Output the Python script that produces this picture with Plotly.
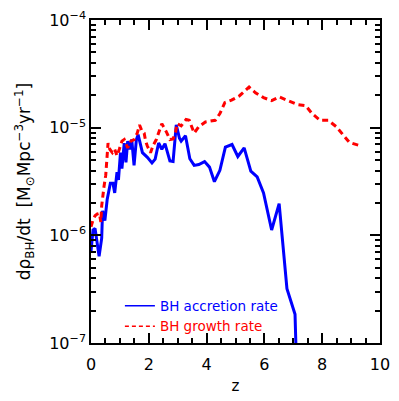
import plotly.graph_objects as go

# BH accretion rate (blue solid)
z_acc = [0.00, 0.07, 0.14, 0.20, 0.28, 0.37, 0.40, 0.48, 0.56, 0.67, 0.76, 0.82, 0.90, 0.95,
         1.02, 1.07, 1.15, 1.21, 1.27, 1.34, 1.41, 1.49, 1.57, 1.63, 1.78, 1.95, 2.11, 2.22,
         2.34, 2.45, 2.56, 2.73, 2.84, 2.95, 3.06, 3.12, 3.27, 3.42, 3.57, 3.73, 3.93, 4.10,
         4.27, 4.46, 4.65, 4.88, 5.08, 5.30, 5.53, 5.75, 5.97, 6.25, 6.51, 6.78, 7.06, 7.12]
acc = [7.1e-7, 1.12e-6, 1.16e-6, 8.8e-7, 6.4e-7, 9.4e-7, 1.69e-6, 1.37e-6, 2.15e-6, 3.05e-6,
       3.05e-6, 2.48e-6, 3.87e-6, 3.27e-6, 5.86e-6, 4.16e-6, 7.2e-6, 4.77e-6, 7.5e-6, 6.3e-6,
       7.75e-6, 4.46e-6, 7.75e-6, 8.6e-6, 5.86e-6, 5.3e-6, 4.7e-6, 5.1e-6, 7.2e-6, 6.3e-6,
       7.1e-6, 4.9e-6, 4.85e-6, 1.06e-5, 8.0e-6, 7.5e-6, 8.4e-6, 5.15e-6, 4.46e-6, 4.55e-6,
       4.84e-6, 4.3e-6, 3.15e-6, 4.02e-6, 6.6e-6, 6.98e-6, 5.4e-6, 6.5e-6, 3.94e-6, 3.49e-6,
       2.48e-6, 1.12e-6, 1.97e-6, 3.2e-7, 1.85e-7, 5e-8]

# BH growth rate (red dashed)
z_gro = [0.00, 0.07, 0.14, 0.22, 0.29, 0.34, 0.37, 0.40, 0.45, 0.51, 0.56, 0.59, 0.65, 0.74,
         0.82, 0.90, 0.98, 1.07, 1.15, 1.27, 1.38, 1.49, 1.60, 1.68, 1.77, 1.84, 1.89, 1.95,
         2.06, 2.15, 2.26, 2.37, 2.45, 2.62, 2.73, 2.84, 2.93, 2.98, 3.12, 3.29, 3.40, 3.57,
         3.73, 3.96, 4.30, 4.46, 4.63, 4.86, 5.13, 5.47, 5.69, 5.97, 6.25, 6.51, 6.81, 7.15,
         7.43, 7.65, 7.93, 8.21, 8.49, 8.71, 8.94, 9.27]
gro = [1.2e-6, 1.39e-6, 1.52e-6, 1.58e-6, 1.6e-6, 1.33e-6, 1.88e-6, 2.31e-6, 2.84e-6, 3.62e-6,
       5.3e-6, 7.2e-6, 6.3e-6, 5.86e-6, 6.3e-6, 5.48e-6, 6.3e-6, 7.5e-6, 7.75e-6, 6.5e-6,
       7.5e-6, 7.75e-6, 8.9e-6, 1.06e-5, 9.2e-6, 8.9e-6, 7.5e-6, 6.75e-6, 5.86e-6, 6.84e-6,
       7.75e-6, 9.4e-6, 1.09e-5, 9.0e-6, 7.75e-6, 7.85e-6, 9.2e-6, 1.09e-5, 1.04e-5, 1.19e-5,
       1.17e-5, 8.9e-6, 1.02e-5, 1.13e-5, 1.17e-5, 1.35e-5, 1.71e-5, 1.80e-5, 1.97e-5, 2.38e-5,
       2.11e-5, 1.90e-5, 1.78e-5, 1.93e-5, 1.78e-5, 1.64e-5, 1.60e-5, 1.35e-5, 1.17e-5, 1.17e-5,
       1.02e-5, 8.6e-6, 7.3e-6, 6.84e-6]

x_ticks = [0, 2, 4, 6, 8, 10]
x_all = [i * 0.5 for i in range(21)]
x_alltext = [str(int(v)) if v in x_ticks else "" for v in x_all]
y_ticks = [1e-7, 1e-6, 1e-5, 1e-4]
y_alltext_map = {1e-7: "10<sup>−7</sup>", 1e-6: "10<sup>−6</sup>",
                 1e-5: "10<sup>−5</sup>", 1e-4: "10<sup>−4</sup>"}
y_all = [m * d for d in (1e-7, 1e-6, 1e-5) for m in range(1, 10)] + [1e-4]
y_alltext = [y_alltext_map.get(v, "") for v in y_all]

FONT = "DejaVu Sans"

fig = go.Figure()
# invisible copy on the overlay axes that carry the longer major ticks
fig.add_trace(go.Scatter(x=z_gro, y=gro, xaxis="x2", yaxis="y2", mode="lines",
                         opacity=0, showlegend=False, hoverinfo="skip",
                         line=dict(color="rgba(0,0,0,0)", width=0.1)))
fig.add_trace(go.Scatter(x=z_acc, y=acc, mode="lines", showlegend=False,
                         line=dict(color="#0000ff", width=3)))
fig.add_trace(go.Scatter(x=z_gro, y=gro, mode="lines", showlegend=False,
                         line=dict(color="#ff0000", width=3, dash="6px,4px")))
# legend entries (thin lines as in the reference legend)
fig.add_trace(go.Scatter(x=[None], y=[None], mode="lines",
                         line=dict(color="#0000ff", width=1.5),
                         name="<span style='color:#0000ff'>BH accretion rate</span>"))
fig.add_trace(go.Scatter(x=[None], y=[None], mode="lines",
                         line=dict(color="#ff0000", width=1.5, dash="4px,3px"),
                         name="<span style='color:#ff0000'>BH growth rate</span>"))

axis_common = dict(showline=True, linecolor="black", linewidth=1.5, showgrid=False,
                   zeroline=False, ticks="inside", tickwidth=1.5, tickcolor="black",
                   mirror="ticks", layer="above traces")

fig.update_layout(
    width=399, height=401,
    margin=dict(l=91, r=9, t=14, b=58),
    paper_bgcolor="white", plot_bgcolor="white",
    font=dict(family=FONT, size=14, color="black"),
    showlegend=True,
    legend=dict(x=0.10, y=0.163, xanchor="left", yanchor="top",
                bgcolor="rgba(0,0,0,0)", font=dict(size=13.5, family=FONT),
                tracegroupgap=0, itemwidth=30),
    xaxis=dict(range=[0, 10], tickvals=x_all, ticktext=x_alltext,
               ticklen=5, ticklabelstandoff=6,
               title=dict(text="z", standoff=8, font=dict(size=15)),
               tickfont=dict(size=16), **axis_common),
    xaxis2=dict(range=[0, 10], overlaying="x", side="bottom", tickvals=x_ticks,
                ticktext=[""] * len(x_ticks), ticklen=10, **axis_common),
    yaxis=dict(type="log", range=[-7, -4], tickvals=y_all, ticktext=y_alltext,
               ticklen=5,
               title=dict(text="dρ<sub>BH</sub>/dt  [M<sub>⊙</sub>Mpc<sup>−3</sup>yr<sup>−1</sup>]",
                          standoff=14, font=dict(size=17)),
               tickfont=dict(size=16), **axis_common),
    yaxis2=dict(type="log", range=[-7, -4], overlaying="y", side="left",
                tickvals=y_ticks, ticktext=[""] * len(y_ticks), ticklen=10, **axis_common),
)

fig.write_html("out.html")
